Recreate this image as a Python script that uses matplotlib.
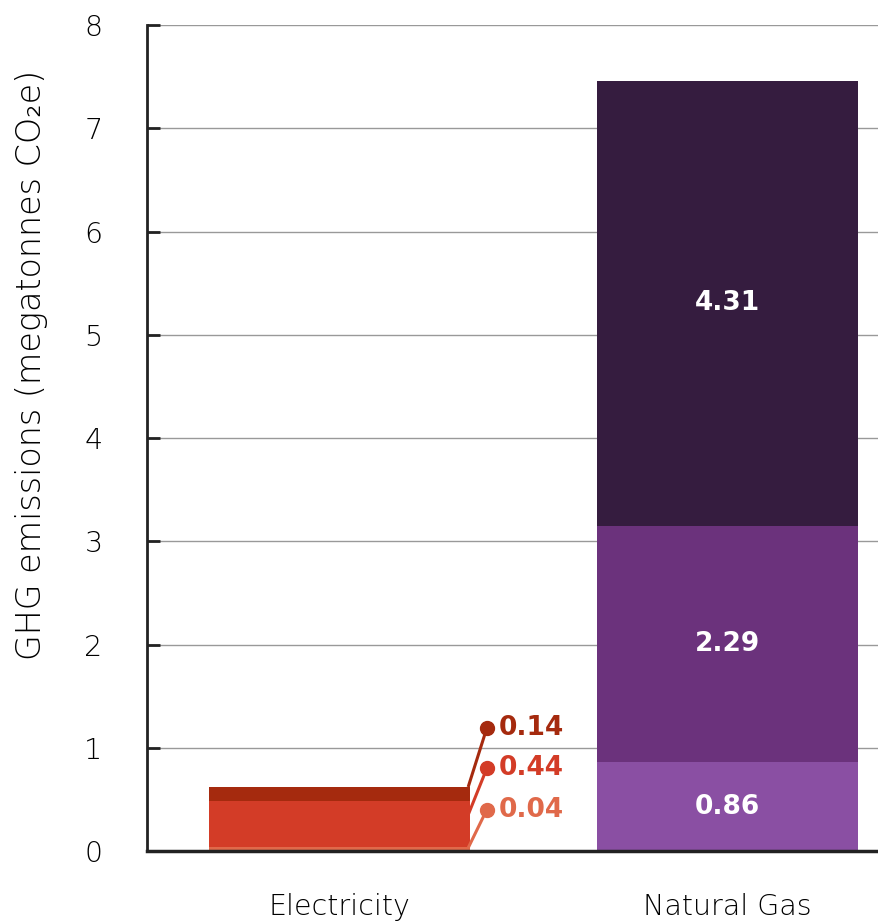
import matplotlib
matplotlib.use("Agg")
import matplotlib.pyplot as plt
import numpy as np

categories = ["Electricity", "Natural Gas"]
elec_values = [0.04, 0.44, 0.14]
gas_values = [0.86, 2.29, 4.31]
elec_colors = ["#e0694a", "#d33c27", "#a52a0e"]
gas_colors = ["#8a4fa3", "#6b327c", "#351c3f"]
yticks = [0, 1, 2, 3, 4, 5, 6, 7, 8]

plt.rcParams['font.family'] = ["DejaVu Sans"]

fig = plt.figure(figsize=(8.79, 9.22), dpi=100)
ax = fig.add_axes([147/879, 1-851/922, 1-147/879, (851-25)/922])

x = np.arange(len(categories))
width = 0.673

# Electricity stacked
bottom = 0
for v, c in zip(elec_values, elec_colors):
    ax.bar(x[0], v, width, bottom=bottom, color=c, zorder=3)
    bottom += v

# Natural gas stacked with inside labels
bottom = 0
for v, c in zip(gas_values, gas_colors):
    ax.bar(x[1], v, width, bottom=bottom, color=c, zorder=3)
    ax.text(x[1], bottom + v/2, f"{v:.2f}", ha="center", va="center",
            color="white", fontsize=19, fontweight="bold", zorder=4)
    bottom += v

# Electricity leader labels
start_y = [0.03, 0.35, 0.62]
label_y = [0.40, 0.80, 1.19]
x_edge = x[0] + width/2
x_dot = x_edge + 0.043
for v, c, sy, ly in zip(elec_values, elec_colors, start_y, label_y):
    ax.plot([x_edge - 0.005, x_dot], [sy, ly], color=c, lw=2.2, zorder=5,
            solid_capstyle="butt")
    ax.plot([x_dot], [ly], "o", color=c, ms=10, zorder=6)
    ax.text(x_dot + 0.03, ly, f"{v:.2f}", ha="left", va="center",
            color=c, fontsize=19, fontweight="bold", zorder=6)

ax.set_xlim(-0.496, 1.39)
ax.set_ylim(0, 8)
ax.set_yticks(yticks)
ax.set_yticklabels([str(t) for t in yticks])
ax.set_xticks(x)
ax.set_xticklabels(categories)

ax.grid(axis="y", color="#999999", lw=1, zorder=0)
ax.set_axisbelow(True)
for s in ["top", "right"]:
    ax.spines[s].set_visible(False)
ax.spines["left"].set_color("#222222")
ax.spines["left"].set_linewidth(2)
ax.spines["bottom"].set_color("#222222")
ax.spines["bottom"].set_linewidth(2.5)
ax.spines["left"].set_zorder(7)
ax.spines["bottom"].set_zorder(7)

ax.tick_params(axis="y", direction="in", length=9, width=2, color="#222222",
               pad=32, labelsize=20.5, labelcolor="#000000")
ax.tick_params(axis="x", length=0, pad=30, labelsize=20.5, labelcolor="#000000")
for lbl in ax.get_xticklabels() + ax.get_yticklabels():
    lbl.set_fontweight("light")

ax.set_ylabel("GHG emissions (megatonnes CO₂e)", fontsize=24, color="#000000",
              fontweight="light")
ax.yaxis.set_label_coords((48-147)/732, (851-365)/826)

fig.savefig("out.png", dpi=100)
